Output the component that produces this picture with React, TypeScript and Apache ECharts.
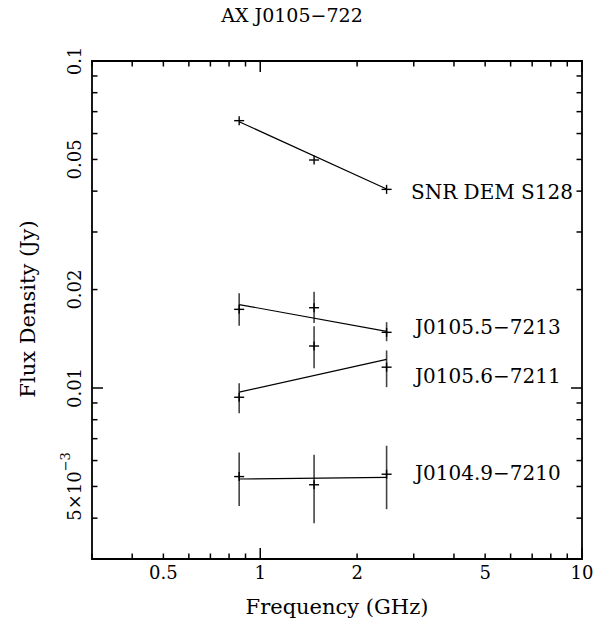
import React, { useEffect, useRef } from 'react';
import * as echarts from 'echarts';

// ---- texts ----
const titleText = 'AX J0105−722';
const xName = 'Frequency (GHz)';
const yName = 'Flux Density (Jy)';

// ---- axis ranges ----
const xMin = 0.3;
const xMax = 10;
const yMin = 0.003;
const yMax = 0.1;

// ---- ticks ----
const xMinorTicks = [0.3, 0.4, 0.5, 0.6, 0.7, 0.8, 0.9, 2, 3, 4, 5, 6, 7, 8, 9];
const xMajorTicks = [1, 10];
const yMinorTicks = [0.003, 0.004, 0.005, 0.006, 0.007, 0.008, 0.009, 0.02, 0.03, 0.04, 0.05, 0.06, 0.07, 0.08, 0.09];
const yMajorTicks = [0.01, 0.1];
const xTickValues = [0.5, 1, 2, 5, 10];
const xTickLabels = ['0.5', '1', '2', '5', '10'];
const yTickValues = [0.1, 0.05, 0.02, 0.01, 0.005];
const yTickLabels = ['0.1', '0.05', '0.02', '0.01', '5×10^−3'];

// ---- data ----
const freqs = [0.86, 1.47, 2.47];

const snrFlux = [0.0657, 0.0498, 0.0405];
const snrFit = [0.0652, 0.0406];

const j7213Flux = [0.0174, 0.0176, 0.0148];
const j7213Lo = [0.0155, 0.0158, 0.0139];
const j7213Hi = [0.0195, 0.0197, 0.0159];
const j7213Fit = [0.018, 0.0149];

const j7211Flux = [0.00937, 0.01344, 0.01158];
const j7211Lo = [0.00837, 0.0115, 0.01006];
const j7211Hi = [0.01034, 0.01544, 0.01303];
const j7211Fit = [0.00971, 0.01223];

const j7210Flux = [0.00536, 0.00506, 0.00545];
const j7210Lo = [0.00436, 0.00386, 0.00426];
const j7210Hi = [0.00635, 0.00625, 0.00666];
const j7210Fit = [0.00527, 0.00533];

const sourceNames = ['SNR DEM S128', 'J0105.5−7213', 'J0105.6−7211', 'J0104.9−7210'];

const FONT = '"DejaVu Serif", serif';

function pointSeries(flux: number[], lo: number[] | null, hi: number[] | null) {
  const data = freqs.map((f, i) => [f, flux[i], lo ? lo[i] : flux[i], hi ? hi[i] : flux[i]]);
  return {
    type: 'custom',
    coordinateSystem: 'cartesian2d',
    data,
    encode: { x: 0, y: 1 },
    silent: true,
    renderItem: (params: any, api: any) => {
      const f = api.value(0);
      const p = api.coord([f, api.value(1)]);
      const pl = api.coord([f, api.value(2)]);
      const ph = api.coord([f, api.value(3)]);
      const children: any[] = [];
      if (Math.abs(pl[1] - ph[1]) > 1) {
        children.push({
          type: 'line',
          shape: { x1: p[0], y1: pl[1], x2: p[0], y2: ph[1] },
          style: { stroke: '#444', lineWidth: 1.6 },
        });
      }
      children.push({
        type: 'line',
        shape: { x1: p[0] - 5, y1: p[1], x2: p[0] + 5, y2: p[1] },
        style: { stroke: '#000', lineWidth: 1.4 },
      });
      children.push({
        type: 'line',
        shape: { x1: p[0], y1: p[1] - 4.5, x2: p[0], y2: p[1] + 4.5 },
        style: { stroke: '#000', lineWidth: 1.4 },
      });
      return { type: 'group', children };
    },
  };
}

function fitSeries(fit: number[]) {
  return {
    type: 'line',
    data: [
      [freqs[0], fit[0]],
      [freqs[freqs.length - 1], fit[1]],
    ],
    symbol: 'none',
    silent: true,
    lineStyle: { color: '#000', width: 1.2 },
  };
}

function xTickSeries() {
  const data = [
    ...xMinorTicks.map((v) => [v, yMin, 0]),
    ...xMajorTicks.map((v) => [v, yMin, 1]),
  ];
  return {
    type: 'custom',
    coordinateSystem: 'cartesian2d',
    data,
    encode: { x: 0, y: 1 },
    silent: true,
    renderItem: (params: any, api: any) => {
      const v = api.value(0);
      const len = api.value(2) ? 11 : 5.5;
      const b = api.coord([v, yMin]);
      const t = api.coord([v, yMax]);
      return {
        type: 'group',
        children: [
          { type: 'line', shape: { x1: b[0], y1: b[1], x2: b[0], y2: b[1] - len }, style: { stroke: '#000', lineWidth: 1.5 } },
          { type: 'line', shape: { x1: t[0], y1: t[1], x2: t[0], y2: t[1] + len }, style: { stroke: '#000', lineWidth: 1.5 } },
        ],
      };
    },
  };
}

function yTickSeries() {
  const data = [
    ...yMinorTicks.map((v) => [xMin, v, 0]),
    ...yMajorTicks.map((v) => [xMin, v, 1]),
  ];
  return {
    type: 'custom',
    coordinateSystem: 'cartesian2d',
    data,
    encode: { x: 0, y: 1 },
    silent: true,
    renderItem: (params: any, api: any) => {
      const v = api.value(1);
      const len = api.value(2) ? 11 : 5.5;
      const l = api.coord([xMin, v]);
      const r = api.coord([xMax, v]);
      return {
        type: 'group',
        children: [
          { type: 'line', shape: { x1: l[0], y1: l[1], x2: l[0] + len, y2: l[1] }, style: { stroke: '#000', lineWidth: 1.5 } },
          { type: 'line', shape: { x1: r[0], y1: r[1], x2: r[0] - len, y2: r[1] }, style: { stroke: '#000', lineWidth: 1.5 } },
        ],
      };
    },
  };
}

function xLabelSeries() {
  return {
    type: 'custom',
    coordinateSystem: 'cartesian2d',
    data: xTickValues.map((v, i) => [v, yMin, i]),
    encode: { x: 0, y: 1 },
    silent: true,
    renderItem: (params: any, api: any) => {
      const v = api.value(0);
      const p = api.coord([v, yMin]);
      return {
        type: 'text',
        x: p[0],
        y: p[1] + 13,
        style: {
          text: xTickLabels[params.dataIndex],
          fill: '#000',
          fontSize: 18,
          fontFamily: FONT,
          align: 'center',
          verticalAlign: 'middle',
        },
      };
    },
  };
}

function richLabel(label: string) {
  const k = label.indexOf('^');
  if (k < 0) return `{b|${label}}`;
  return `{b|${label.slice(0, k)}}{s|${label.slice(k + 1)}}`;
}

function yLabelSeries() {
  return {
    type: 'custom',
    coordinateSystem: 'cartesian2d',
    data: yTickValues.map((v, i) => [xMin, v, i]),
    encode: { x: 0, y: 1 },
    silent: true,
    renderItem: (params: any, api: any) => {
      const v = api.value(1);
      const p = api.coord([xMin, v]);
      return {
        type: 'text',
        x: p[0] - 21,
        y: p[1],
        rotation: Math.PI / 2,
        style: {
          text: richLabel(yTickLabels[params.dataIndex]),
          fill: '#000',
          fontSize: 18,
          fontFamily: FONT,
          align: 'center',
          verticalAlign: 'middle',
          rich: {
            b: { fontSize: 18, fontFamily: FONT, lineHeight: 24, verticalAlign: 'bottom', fill: '#000' },
            s: { fontSize: 13, fontFamily: FONT, lineHeight: 14, verticalAlign: 'top', fill: '#000' },
          },
        },
      };
    },
  };
}

const labelPositions = [
  [411, 192],
  [415, 327],
  [415, 376],
  [415, 473],
];

export default function App() {
  const ref = useRef<HTMLDivElement>(null);
  useEffect(() => {
    if (!ref.current) return;
    const chart = echarts.init(ref.current, undefined, { renderer: 'svg' });
    const option: any = {
      animation: false,
      backgroundColor: '#fff',
      grid: {
        left: 92,
        top: 61,
        width: 490,
        height: 498,
        show: true,
        borderColor: '#000',
        borderWidth: 1.8,
        backgroundColor: 'transparent',
      },
      xAxis: {
        type: 'log',
        logBase: 10,
        min: xMin,
        max: xMax,
        axisLine: { show: false },
        axisTick: { show: false },
        axisLabel: { show: false },
        splitLine: { show: false },
        minorTick: { show: false },
      },
      yAxis: {
        type: 'log',
        logBase: 10,
        min: yMin,
        max: yMax,
        axisLine: { show: false },
        axisTick: { show: false },
        axisLabel: { show: false },
        splitLine: { show: false },
        minorTick: { show: false },
      },
      series: [
        xTickSeries(),
        yTickSeries(),
        xLabelSeries(),
        yLabelSeries(),
        fitSeries(snrFit),
        fitSeries(j7213Fit),
        fitSeries(j7211Fit),
        fitSeries(j7210Fit),
        pointSeries(snrFlux, null, null),
        pointSeries(j7213Flux, j7213Lo, j7213Hi),
        pointSeries(j7211Flux, j7211Lo, j7211Hi),
        pointSeries(j7210Flux, j7210Lo, j7210Hi),
      ],
      graphic: [
        {
          type: 'text',
          x: 292,
          y: 15,
          style: { text: titleText, fill: '#000', fontSize: 19, fontFamily: FONT, align: 'center', verticalAlign: 'middle' },
        },
        {
          type: 'text',
          x: 337,
          y: 607,
          style: { text: xName, fill: '#000', fontSize: 21, fontFamily: FONT, align: 'center', verticalAlign: 'middle' },
        },
        {
          type: 'text',
          x: 28,
          y: 309,
          rotation: Math.PI / 2,
          style: { text: yName, fill: '#000', fontSize: 21, fontFamily: FONT, align: 'center', verticalAlign: 'middle' },
        },
        ...sourceNames.map((name, i) => ({
          type: 'text',
          x: labelPositions[i][0],
          y: labelPositions[i][1],
          style: { text: name, fill: '#000', fontSize: 20, fontFamily: FONT, align: 'left', verticalAlign: 'middle' },
        })),
      ],
    };
    chart.setOption(option);
    return () => chart.dispose();
  }, []);
  return (
    <div
      ref={ref}
      style={{ position: 'absolute', left: 0, top: 0, width: 613, height: 626 }}
    />
  );
}
